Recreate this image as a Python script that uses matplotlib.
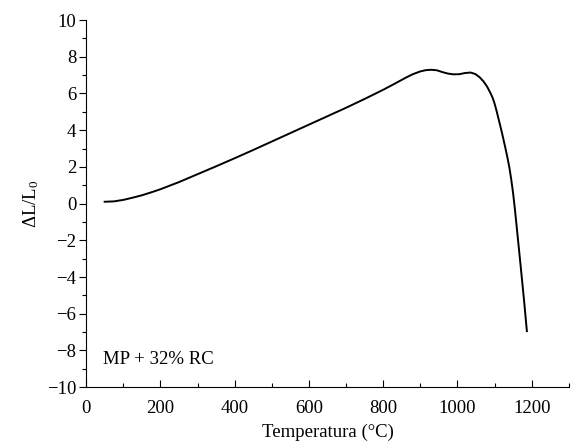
import matplotlib
matplotlib.use("Agg")
import matplotlib.pyplot as plt
from matplotlib.ticker import MultipleLocator
import numpy as np

# dilatometry curve
temperatura = [50, 75, 100, 125, 150, 175, 200, 250, 300, 350, 400, 450, 500,
               550, 600, 650, 700, 750, 800, 830, 860, 880, 900, 915, 930,
               945, 960, 975, 990, 1005, 1020, 1035, 1048, 1060, 1070, 1080,
               1090, 1095, 1100, 1105, 1110, 1120, 1130, 1135, 1140, 1145,
               1150, 1155, 1160, 1170, 1180, 1187]
dl_l0 = [0.10, 0.12, 0.20, 0.32, 0.45, 0.61, 0.78, 1.17, 1.60, 2.03, 2.47,
         2.92, 3.38, 3.84, 4.30, 4.76, 5.22, 5.70, 6.20, 6.52, 6.85, 7.05,
         7.20, 7.27, 7.29, 7.26, 7.16, 7.08, 7.04, 7.05, 7.11, 7.14, 7.06,
         6.88, 6.66, 6.37, 5.98, 5.75, 5.45, 5.08, 4.68, 3.85, 2.95, 2.47,
         1.95, 1.30, 0.55, -0.35, -1.35, -3.35, -5.40, -6.95]

plt.rcParams['font.family'] = ['Liberation Serif', 'DejaVu Serif']
plt.rcParams['mathtext.fontset'] = 'stix'
plt.rcParams['font.size'] = 13.5

fig = plt.figure(figsize=(5.74, 4.45), dpi=100)
ax = fig.add_axes([0.150, 0.130, 0.841, 0.825])

ax.plot(temperatura, dl_l0, color='black', linewidth=1.4)

ax.set_xlim(0, 1300)
ax.set_ylim(-10, 10)
ax.xaxis.set_major_locator(MultipleLocator(200))
ax.xaxis.set_minor_locator(MultipleLocator(100))
ax.yaxis.set_major_locator(MultipleLocator(2))
ax.yaxis.set_minor_locator(MultipleLocator(1))

for s in ['top', 'right']:
    ax.spines[s].set_visible(False)
for s in ['left', 'bottom']:
    ax.spines[s].set_linewidth(0.8)

ax.tick_params(axis='x', which='major', direction='in', length=5, width=0.8, pad=9)
ax.tick_params(axis='x', which='minor', direction='in', length=3, width=0.8)
ax.tick_params(axis='y', which='major', direction='out', length=5, width=0.8, pad=2)
ax.tick_params(axis='y', which='minor', direction='out', length=3, width=0.8)

ax.set_xticks([0, 200, 400, 600, 800, 1000, 1200])
ax.set_xticklabels(['0', '200', '400', '600', '800', '1000', '1200'])
yt = [-10, -8, -6, -4, -2, 0, 2, 4, 6, 8, 10]
ax.set_yticks(yt)
ax.set_yticklabels([str(v).replace('-', '\u2212') for v in yt])

ax.set_xlabel('Temperatura (°C)', labelpad=5)
ax.set_ylabel(r'ΔL/L$_{\mathregular{0}}$', labelpad=4)

ax.text(0.035, 0.075, 'MP + 32% RC', transform=ax.transAxes,
        ha='left', va='center')

fig.savefig('out.png', dpi=100)
